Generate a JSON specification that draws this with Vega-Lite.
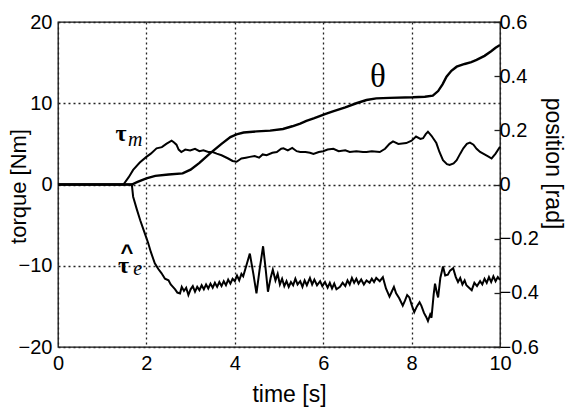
{
  "$schema": "https://vega.github.io/schema/vega-lite/v6.json",
  "width": 442,
  "height": 325,
  "autosize": {"type": "none"},
  "padding": {"left": 58, "top": 22, "right": 65, "bottom": 61},
  "background": "white",
  "config": {
    "view": {"stroke": "#111", "strokeWidth": 1.3},
    "axis": {
      "labelFont": "Liberation Sans",
      "titleFont": "Liberation Sans",
      "labelFontSize": 20,
      "titleFontSize": 22,
      "titleFontWeight": "normal",
      "labelColor": "#000",
      "titleColor": "#000",
      "domain": false,
      "grid": false,
      "labelFlush": false,
      "labelOverlap": false
    }
  },
  "datasets": {
    "taum": [
      {"t": 0, "v": 0}, {"t": 1.48, "v": 0}, {"t": 1.6, "v": 0.9}, {"t": 1.7, "v": 1.8}, {"t": 1.85, "v": 2.7},
      {"t": 2.0, "v": 3.4}, {"t": 2.1, "v": 3.8}, {"t": 2.23, "v": 4.45}, {"t": 2.35, "v": 4.6}, {"t": 2.45, "v": 5.0},
      {"t": 2.57, "v": 5.4}, {"t": 2.62, "v": 5.2}, {"t": 2.68, "v": 4.9}, {"t": 2.73, "v": 4.3}, {"t": 2.79, "v": 4.0},
      {"t": 2.88, "v": 4.3}, {"t": 2.99, "v": 4.2}, {"t": 3.1, "v": 4.4}, {"t": 3.2, "v": 4.1}, {"t": 3.29, "v": 4.2},
      {"t": 3.4, "v": 4.0}, {"t": 3.5, "v": 4.0}, {"t": 3.59, "v": 3.8}, {"t": 3.7, "v": 3.6}, {"t": 3.85, "v": 3.2},
      {"t": 3.95, "v": 2.9}, {"t": 4.04, "v": 2.8}, {"t": 4.15, "v": 3.2}, {"t": 4.25, "v": 3.3}, {"t": 4.34, "v": 3.4},
      {"t": 4.45, "v": 3.5}, {"t": 4.55, "v": 3.3}, {"t": 4.63, "v": 3.7}, {"t": 4.72, "v": 3.6}, {"t": 4.85, "v": 3.9},
      {"t": 4.95, "v": 4.0}, {"t": 5.05, "v": 4.4}, {"t": 5.1, "v": 4.45}, {"t": 5.2, "v": 4.2}, {"t": 5.3, "v": 4.5},
      {"t": 5.4, "v": 4.1}, {"t": 5.48, "v": 4.0}, {"t": 5.6, "v": 4.0}, {"t": 5.7, "v": 3.9}, {"t": 5.78, "v": 3.75},
      {"t": 5.9, "v": 4.0}, {"t": 6.0, "v": 4.1}, {"t": 6.1, "v": 4.3}, {"t": 6.23, "v": 4.4}, {"t": 6.35, "v": 4.1},
      {"t": 6.5, "v": 4.2}, {"t": 6.6, "v": 4.0}, {"t": 6.75, "v": 4.1}, {"t": 6.9, "v": 4.0}, {"t": 6.98, "v": 4.0},
      {"t": 7.1, "v": 4.1}, {"t": 7.28, "v": 4.0}, {"t": 7.4, "v": 4.4}, {"t": 7.5, "v": 5.0}, {"t": 7.58, "v": 5.3},
      {"t": 7.7, "v": 5.0}, {"t": 7.88, "v": 5.1}, {"t": 8.0, "v": 5.4}, {"t": 8.1, "v": 5.9}, {"t": 8.2, "v": 5.6},
      {"t": 8.26, "v": 5.7}, {"t": 8.32, "v": 6.2}, {"t": 8.37, "v": 6.5}, {"t": 8.45, "v": 6.0}, {"t": 8.56, "v": 5.1},
      {"t": 8.63, "v": 4.0}, {"t": 8.71, "v": 3.0}, {"t": 8.8, "v": 2.5}, {"t": 8.86, "v": 2.4}, {"t": 8.95, "v": 2.6},
      {"t": 9.02, "v": 3.0}, {"t": 9.1, "v": 3.8}, {"t": 9.17, "v": 4.45}, {"t": 9.25, "v": 5.0}, {"t": 9.32, "v": 5.15},
      {"t": 9.4, "v": 4.9}, {"t": 9.47, "v": 4.4}, {"t": 9.55, "v": 4.0}, {"t": 9.65, "v": 3.7}, {"t": 9.75, "v": 3.4},
      {"t": 9.81, "v": 3.2}, {"t": 9.9, "v": 3.8}, {"t": 10, "v": 4.65}
    ],
    "taue": [
      {"t": 0, "v": 0}, {"t": 1.67, "v": 0}, {"t": 1.7, "v": -1.5}, {"t": 1.78, "v": -3.0}, {"t": 1.86, "v": -4.4},
      {"t": 1.95, "v": -5.8}, {"t": 2.04, "v": -7.2}, {"t": 2.1, "v": -8.3}, {"t": 2.19, "v": -9.7}, {"t": 2.27, "v": -10.4},
      {"t": 2.34, "v": -10.9}, {"t": 2.42, "v": -11.6}, {"t": 2.5, "v": -11.8}, {"t": 2.55, "v": -12.3}, {"t": 2.6, "v": -12.6},
      {"t": 2.65, "v": -12.9}, {"t": 2.7, "v": -13.3}, {"t": 2.76, "v": -13.4}, {"t": 2.8, "v": -12.6}, {"t": 2.85, "v": -13.1},
      {"t": 2.9, "v": -12.7}, {"t": 2.95, "v": -13.6}, {"t": 3.0, "v": -12.9}, {"t": 3.05, "v": -12.5}, {"t": 3.1, "v": -13.2},
      {"t": 3.15, "v": -12.6}, {"t": 3.2, "v": -13.0}, {"t": 3.25, "v": -12.4}, {"t": 3.3, "v": -12.9}, {"t": 3.35, "v": -12.3},
      {"t": 3.4, "v": -12.8}, {"t": 3.45, "v": -12.2}, {"t": 3.5, "v": -12.7}, {"t": 3.55, "v": -12.1}, {"t": 3.6, "v": -12.6},
      {"t": 3.65, "v": -12.0}, {"t": 3.7, "v": -12.5}, {"t": 3.75, "v": -11.9}, {"t": 3.8, "v": -12.4}, {"t": 3.85, "v": -11.7},
      {"t": 3.9, "v": -12.2}, {"t": 3.95, "v": -11.6}, {"t": 4.0, "v": -11.9}, {"t": 4.05, "v": -11.2}, {"t": 4.1, "v": -11.8},
      {"t": 4.15, "v": -11.0}, {"t": 4.19, "v": -11.3}, {"t": 4.26, "v": -10.0}, {"t": 4.34, "v": -8.5}, {"t": 4.42, "v": -11.0},
      {"t": 4.49, "v": -13.4}, {"t": 4.56, "v": -10.5}, {"t": 4.64, "v": -7.6}, {"t": 4.7, "v": -10.5}, {"t": 4.75, "v": -13.2},
      {"t": 4.81, "v": -11.5}, {"t": 4.86, "v": -10.5}, {"t": 4.92, "v": -11.8}, {"t": 4.97, "v": -11.0}, {"t": 5.02, "v": -12.3},
      {"t": 5.07, "v": -11.6}, {"t": 5.12, "v": -12.5}, {"t": 5.17, "v": -11.9}, {"t": 5.22, "v": -12.6}, {"t": 5.27, "v": -12.0},
      {"t": 5.32, "v": -12.4}, {"t": 5.37, "v": -11.6}, {"t": 5.42, "v": -12.3}, {"t": 5.48, "v": -11.9}, {"t": 5.53, "v": -12.6},
      {"t": 5.58, "v": -11.8}, {"t": 5.63, "v": -12.4}, {"t": 5.7, "v": -11.5}, {"t": 5.75, "v": -12.3}, {"t": 5.8, "v": -11.7},
      {"t": 5.86, "v": -12.4}, {"t": 5.93, "v": -11.9}, {"t": 5.98, "v": -12.5}, {"t": 6.04, "v": -12.0}, {"t": 6.1, "v": -12.7},
      {"t": 6.15, "v": -12.1}, {"t": 6.2, "v": -12.8}, {"t": 6.25, "v": -12.2}, {"t": 6.3, "v": -12.9}, {"t": 6.38, "v": -12.6},
      {"t": 6.44, "v": -12.1}, {"t": 6.5, "v": -12.5}, {"t": 6.55, "v": -11.8}, {"t": 6.6, "v": -12.3}, {"t": 6.65, "v": -11.5},
      {"t": 6.7, "v": -12.1}, {"t": 6.75, "v": -11.6}, {"t": 6.8, "v": -12.2}, {"t": 6.86, "v": -11.7}, {"t": 6.92, "v": -12.3},
      {"t": 6.98, "v": -11.8}, {"t": 7.05, "v": -12.1}, {"t": 7.1, "v": -11.6}, {"t": 7.15, "v": -12.0}, {"t": 7.2, "v": -11.5},
      {"t": 7.28, "v": -11.9}, {"t": 7.35, "v": -11.4}, {"t": 7.42, "v": -12.8}, {"t": 7.5, "v": -13.8}, {"t": 7.55, "v": -13.2},
      {"t": 7.6, "v": -12.6}, {"t": 7.65, "v": -13.4}, {"t": 7.72, "v": -14.0}, {"t": 7.8, "v": -14.9}, {"t": 7.85, "v": -14.3},
      {"t": 7.9, "v": -13.6}, {"t": 7.95, "v": -13.9}, {"t": 8.0, "v": -14.8}, {"t": 8.06, "v": -15.7}, {"t": 8.12, "v": -15.0},
      {"t": 8.18, "v": -14.5}, {"t": 8.22, "v": -14.9}, {"t": 8.28, "v": -15.8}, {"t": 8.33, "v": -16.3}, {"t": 8.37, "v": -16.8},
      {"t": 8.42, "v": -16.0}, {"t": 8.45, "v": -16.4}, {"t": 8.5, "v": -13.5}, {"t": 8.53, "v": -12.2}, {"t": 8.57, "v": -13.3},
      {"t": 8.6, "v": -13.9}, {"t": 8.65, "v": -11.5}, {"t": 8.71, "v": -10.1}, {"t": 8.76, "v": -11.2}, {"t": 8.82, "v": -11.1},
      {"t": 8.87, "v": -10.6}, {"t": 8.94, "v": -10.3}, {"t": 9.0, "v": -11.4}, {"t": 9.05, "v": -12.0}, {"t": 9.1, "v": -11.5},
      {"t": 9.15, "v": -12.3}, {"t": 9.2, "v": -11.8}, {"t": 9.24, "v": -12.4}, {"t": 9.3, "v": -12.7}, {"t": 9.36, "v": -13.0},
      {"t": 9.42, "v": -12.1}, {"t": 9.48, "v": -12.5}, {"t": 9.55, "v": -11.9}, {"t": 9.6, "v": -12.3}, {"t": 9.65, "v": -11.6},
      {"t": 9.7, "v": -12.1}, {"t": 9.75, "v": -11.4}, {"t": 9.8, "v": -12.0}, {"t": 9.85, "v": -11.3}, {"t": 9.9, "v": -11.9},
      {"t": 9.95, "v": -11.4}, {"t": 10, "v": -11.75}
    ],
    "theta": [
      {"t": 0, "v": 0}, {"t": 1.67, "v": 0}, {"t": 1.8, "v": 0.01}, {"t": 2.0, "v": 0.023}, {"t": 2.2, "v": 0.032},
      {"t": 2.5, "v": 0.037}, {"t": 2.82, "v": 0.041}, {"t": 3.0, "v": 0.055}, {"t": 3.2, "v": 0.08}, {"t": 3.44, "v": 0.115},
      {"t": 3.7, "v": 0.15}, {"t": 3.9, "v": 0.175}, {"t": 4.04, "v": 0.185}, {"t": 4.2, "v": 0.192}, {"t": 4.5, "v": 0.196},
      {"t": 4.8, "v": 0.199}, {"t": 5.09, "v": 0.205}, {"t": 5.3, "v": 0.215}, {"t": 5.48, "v": 0.225}, {"t": 5.62, "v": 0.235},
      {"t": 5.8, "v": 0.245}, {"t": 6.04, "v": 0.26}, {"t": 6.22, "v": 0.27}, {"t": 6.5, "v": 0.285}, {"t": 6.75, "v": 0.3},
      {"t": 6.98, "v": 0.312}, {"t": 7.2, "v": 0.318}, {"t": 7.5, "v": 0.32}, {"t": 8.03, "v": 0.322}, {"t": 8.3, "v": 0.324},
      {"t": 8.48, "v": 0.328}, {"t": 8.6, "v": 0.345}, {"t": 8.7, "v": 0.37}, {"t": 8.79, "v": 0.398}, {"t": 8.9, "v": 0.42},
      {"t": 9.02, "v": 0.435}, {"t": 9.2, "v": 0.445}, {"t": 9.35, "v": 0.452}, {"t": 9.47, "v": 0.46}, {"t": 9.65, "v": 0.475},
      {"t": 9.8, "v": 0.492}, {"t": 9.9, "v": 0.505}, {"t": 10, "v": 0.515}
    ]
  },
  "layer": [
    {
      "data": {"name": "taum"},
      "mark": {"type": "line", "color": "#000", "strokeWidth": 2},
      "encoding": {
        "x": {"field": "t", "type": "quantitative", "scale": {"domain": [0, 10], "nice": false},
          "axis": {"values": [0, 2, 4, 6, 8, 10], "title": "time [s]", "titleFontSize": 23, "grid": true, "gridDash": [2, 3], "gridColor": "#222", "gridWidth": 1.3,
            "tickSize": 0, "labelPadding": 6, "titleX": 231, "titleY": 47, "titleBaseline": "middle"}},
        "y": {"field": "v", "type": "quantitative", "scale": {"domain": [-20, 20], "nice": false},
          "axis": {"orient": "left", "values": [-20, -10, 0, 10, 20], "title": "torque [Nm]", "grid": true, "gridDash": [2, 3], "gridColor": "#222", "gridWidth": 1.3,
            "tickSize": 0, "labelPadding": 6, "titleX": -40, "titleY": 164, "titleBaseline": "middle", "titleAngle": -90}}
      }
    },
    {
      "data": {"name": "taue"},
      "mark": {"type": "line", "color": "#000", "strokeWidth": 2},
      "encoding": {
        "x": {"field": "t", "type": "quantitative"},
        "y": {"field": "v", "type": "quantitative", "scale": {"domain": [-20, 20], "nice": false}, "axis": null}
      }
    },
    {
      "data": {"name": "theta"},
      "mark": {"type": "line", "color": "#000", "strokeWidth": 2.4},
      "encoding": {
        "x": {"field": "t", "type": "quantitative"},
        "y": {"field": "v", "type": "quantitative", "scale": {"domain": [-0.6, 0.6], "nice": false},
          "axis": {"orient": "right", "values": [-0.6, -0.4, -0.2, 0, 0.2, 0.4, 0.6], "title": "position [rad]", "titleFontSize": 23, "format": "~g",
            "tickSize": -6, "tickColor": "#222", "tickWidth": 1.3, "labelPadding": 5, "titleX": 52, "titleY": 141, "titleBaseline": "middle", "titleAngle": 90}}
      }
    },
    {
      "data": {"values": [{"t": 7.24, "v": 12.0, "txt": "θ"}]},
      "mark": {"type": "text", "font": "Liberation Serif", "fontSize": 33, "align": "center", "baseline": "alphabetic", "color": "#000"},
      "encoding": {
        "x": {"field": "t", "type": "quantitative"},
        "y": {"field": "v", "type": "quantitative", "scale": {"domain": [-20, 20], "nice": false}, "axis": null},
        "text": {"field": "txt"}
      }
    },
    {
      "data": {"values": [{"t": 1.3, "v": 5.35, "txt": "τ"}, {"t": 1.357, "v": -10.89, "txt": "τ"}]},
      "mark": {"type": "text", "font": "Liberation Serif", "fontSize": 24, "fontWeight": "bold", "align": "left", "baseline": "alphabetic", "color": "#000"},
      "encoding": {
        "x": {"field": "t", "type": "quantitative"},
        "y": {"field": "v", "type": "quantitative", "scale": {"domain": [-20, 20], "nice": false}, "axis": null},
        "text": {"field": "txt"}
      }
    },
    {
      "data": {"values": [{"t": 1.584, "v": 4.8, "txt": "m"}, {"t": 1.7, "v": -11.14, "txt": "e"}]},
      "mark": {"type": "text", "font": "Liberation Serif", "fontSize": 20, "fontStyle": "italic", "align": "left", "baseline": "alphabetic", "color": "#000"},
      "encoding": {
        "x": {"field": "t", "type": "quantitative"},
        "y": {"field": "v", "type": "quantitative", "scale": {"domain": [-20, 20], "nice": false}, "axis": null},
        "text": {"field": "txt"}
      }
    },
    {
      "data": {"values": [{"t": 1.561, "v": -9.25, "txt": "^"}]},
      "mark": {"type": "text", "font": "Liberation Sans", "fontSize": 22, "fontWeight": "bold", "align": "center", "baseline": "alphabetic", "color": "#000"},
      "encoding": {
        "x": {"field": "t", "type": "quantitative"},
        "y": {"field": "v", "type": "quantitative", "scale": {"domain": [-20, 20], "nice": false}, "axis": null},
        "text": {"field": "txt"}
      }
    }
  ],
  "resolve": {"scale": {"y": "independent"}}
}
